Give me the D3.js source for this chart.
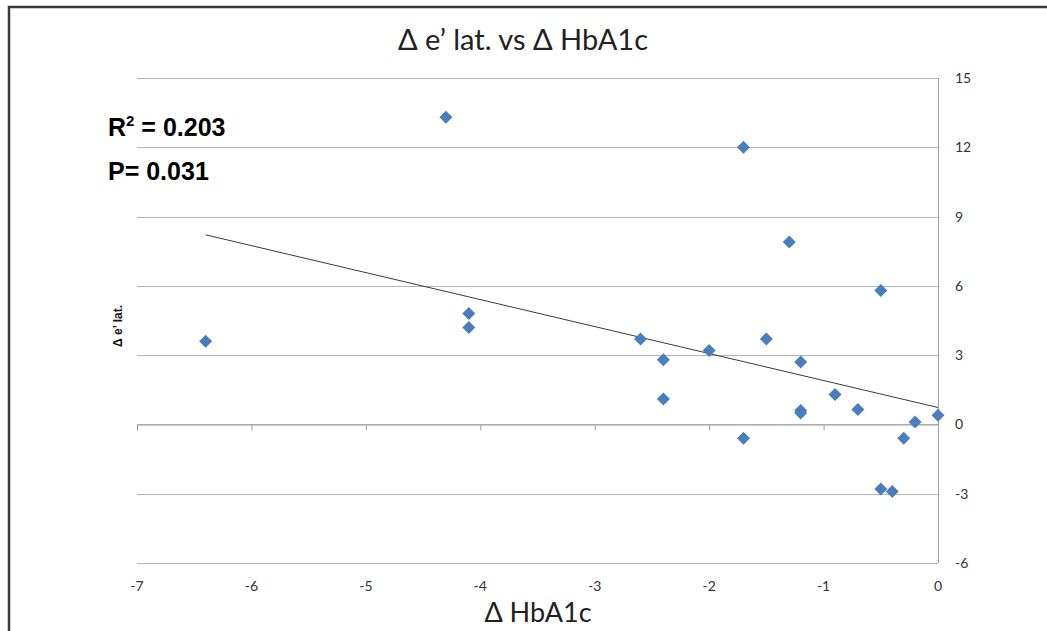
<!DOCTYPE html>
<html>
<head>
<meta charset="utf-8">
<script src="https://cdn.jsdelivr.net/npm/d3@7"></script>
<style>
  body { margin: 0; background: #fff; }
  svg { font-family: Lato, "Open Sans", sans-serif; }
</style>
</head>
<body>
<svg id="chart" width="1047" height="631"></svg>
<script>
// Data
const hba1c = [-6.4, -4.3, -4.1, -4.1, -2.6, -2.4, -2.4, -2.0, -1.7, -1.7, -1.5, -1.3, -1.2, -1.2, -1.2, -0.9, -0.7, -0.5, -0.5, -0.4, -0.3, -0.2, 0.0];
const eLat  = [3.6, 13.3, 4.8, 4.2, 3.7, 2.8, 1.1, 3.2, -0.6, 12.0, 3.7, 7.9, 2.7, 0.6, 0.5, 1.3, 0.65, 5.8, -2.8, -2.9, -0.6, 0.1, 0.4];
const xTicks = [-7, -6, -5, -4, -3, -2, -1, 0];
const yTicks = [-6, -3, 0, 3, 6, 9, 12, 15];

const points = hba1c.map((x, i) => ({ x, y: eLat[i] }));

const svg = d3.select("#chart");
const margin = { top: 78, right: 109, bottom: 68, left: 137 };
const width = 1047, height = 631;

const x = d3.scaleLinear().domain([-7, 0]).range([margin.left, width - margin.right]);
const y = d3.scaleLinear().domain([-6, 15]).range([height - margin.bottom, margin.top]);

// outer frame
svg.append("path")
  .attr("d", `M9,${height + 5} V7 H${width + 5}`)
  .attr("fill", "none")
  .attr("stroke", "#3a3a3a")
  .attr("stroke-width", 2.5);

// gridlines
svg.append("g")
  .selectAll("line")
  .data(yTicks)
  .join("line")
  .attr("x1", x(-7)).attr("x2", x(0))
  .attr("y1", d => Math.round(y(d)) + 0.5).attr("y2", d => Math.round(y(d)) + 0.5)
  .attr("stroke", "#b4b4b4");

// y axis line at x = 0 with labels on the right
svg.append("line")
  .attr("x1", Math.round(x(0)) + 0.5).attr("x2", Math.round(x(0)) + 0.5)
  .attr("y1", y(15)).attr("y2", y(-6))
  .attr("stroke", "#a0a0a0");

svg.append("g")
  .selectAll("text")
  .data(yTicks)
  .join("text")
  .attr("x", x(0) + 17)
  .attr("y", d => y(d) + 5)
  .attr("font-size", 14)
  .attr("fill", "#333")
  .text(d => d);

// x axis at y = 0
const xAxis = svg.append("g")
  .attr("transform", `translate(0,${Math.round(y(0)) + 0.5})`)
  .call(d3.axisBottom(x).tickValues(xTicks).tickSize(6).tickFormat(""));
xAxis.select(".domain").attr("stroke", "#a0a0a0");
xAxis.selectAll(".tick line").attr("stroke", "#a0a0a0");

svg.append("g")
  .selectAll("text")
  .data(xTicks)
  .join("text")
  .attr("x", d => x(d))
  .attr("y", y(-6) + 28)
  .attr("text-anchor", "middle")
  .attr("font-size", 14)
  .attr("fill", "#333")
  .text(d => d);

// least-squares trendline over the data range
const mx = d3.mean(points, d => d.x), my = d3.mean(points, d => d.y);
const slope = d3.sum(points, d => (d.x - mx) * (d.y - my)) / d3.sum(points, d => (d.x - mx) ** 2);
const intercept = my - slope * mx;
const [x0, x1] = d3.extent(points, d => d.x);
svg.append("path")
  .datum([x0, x1])
  .attr("fill", "none")
  .attr("stroke", "#3a3a3a")
  .attr("stroke-width", 1)
  .attr("d", d3.line().x(d => x(d)).y(d => y(slope * d + intercept)));

// diamond markers
svg.append("g")
  .selectAll("path")
  .data(points)
  .join("path")
  .attr("transform", d => `translate(${x(d.x)},${y(d.y)})`)
  .attr("d", "M0,-6.5 L6.5,0 L0,6.5 L-6.5,0 Z")
  .attr("fill", "#4a7ebb");

// titles
svg.append("text")
  .attr("x", 523).attr("y", 50)
  .attr("text-anchor", "middle")
  .attr("font-size", 29)
  .attr("fill", "#222")
  .text("Δ e’ lat. vs Δ HbA1c");

svg.append("text")
  .attr("x", 538).attr("y", 622)
  .attr("text-anchor", "middle")
  .attr("font-size", 27)
  .attr("fill", "#222")
  .text("Δ HbA1c");

svg.append("text")
  .attr("transform", `translate(122,${326}) rotate(-90)`)
  .attr("text-anchor", "middle")
  .style("font-family", "'Liberation Sans', Arial, sans-serif")
  .attr("font-weight", "bold")
  .attr("font-size", 12)
  .attr("fill", "#111")
  .text("Δ e’ lat.");

// statistics annotation
const stats = svg.append("g")
  .style("font-family", "'Liberation Sans', Arial, sans-serif")
  .attr("font-weight", "bold")
  .attr("font-size", 25)
  .attr("fill", "#000");
const r2 = stats.append("text").attr("x", 108).attr("y", 136);
r2.append("tspan").text("R");
r2.append("tspan").attr("font-size", 15).attr("dy", -10).text("2");
r2.append("tspan").attr("dy", 10).text(" = 0.203");
stats.append("text").attr("x", 108).attr("y", 180).text("P= 0.031");
</script>
</body>
</html>
